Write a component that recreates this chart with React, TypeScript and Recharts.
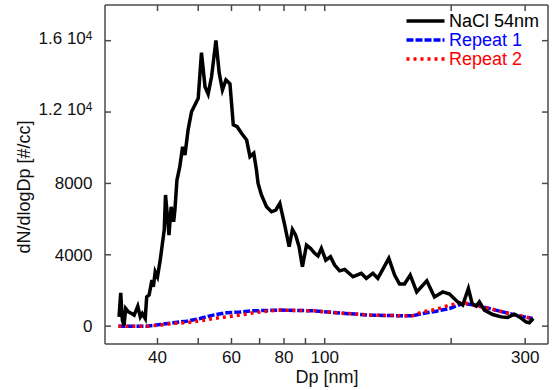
import React from 'react';
import { LineChart, Line, XAxis, YAxis, Legend } from 'recharts';

// NaCl 54nm (black)
const naclDp = [32.4, 32.7, 33.0, 33.3, 33.6, 34.1, 34.7, 35.2, 35.9, 36.4, 36.8, 37.4, 37.7, 38.2, 38.8, 39.1, 39.5, 40.0, 40.6, 41.1, 41.5, 41.8, 42.3, 42.6, 43.1, 43.7, 44.0, 44.5, 45.2, 45.9, 46.5, 47.3, 48.2, 49.1, 50.0, 50.9, 51.9, 52.8, 53.8, 55.1, 56.1, 57.1, 58.2, 59.5, 60.6, 61.9, 63.4, 65.2, 66.4, 67.8, 68.8, 69.4, 70.7, 72.7, 74.7, 76.5, 78.2, 80.4, 82.3, 83.8, 85.3, 86.9, 88.5, 90.5, 92.5, 94.7, 96.4, 98.2, 100.6, 103.2, 105.6, 108.5, 111.6, 116.8, 122.2, 125.6, 130.2, 133.8, 142.1, 146.7, 150.7, 154.9, 159.8, 165.6, 175.0, 182.5, 191.0, 198.2, 207.3, 213.1, 219.8, 224.3, 229.3, 233.5, 239.9, 251.1, 262.9, 272.6, 282.7, 290.6, 301.4, 306.9, 313.7];
const naclN = [520, 1870, 340, 60, 990, 800, 710, 620, 1120, 520, 710, 430, 1640, 1740, 2580, 2200, 3050, 2770, 3700, 4640, 5390, 7350, 5950, 5100, 6690, 5850, 6510, 8190, 8940, 10060, 9590, 11000, 12020, 12400, 12770, 15330, 13420, 13010, 13990, 16010, 14180, 13240, 13800, 13580, 11280, 11180, 10810, 10430, 9500, 9690, 8750, 8010, 7350, 6690, 6410, 6510, 6880, 5620, 4450, 5420, 5100, 4450, 3330, 4540, 4360, 4080, 3930, 4360, 3700, 3890, 3420, 3100, 3180, 2770, 2960, 2680, 2960, 2680, 3800, 2860, 2360, 2360, 2860, 1920, 2540, 1640, 1920, 1800, 1360, 1180, 2110, 1270, 1120, 1360, 900, 650, 520, 490, 670, 520, 240, 190, 430];

// Repeat 1 (blue)
const rep1Dp = [32.3, 35.1, 37.7, 40.6, 43.6, 46.9, 50.5, 54.3, 58.4, 62.8, 67.6, 72.7, 78.2, 93.8, 106.6, 127.9, 153.5, 161.8, 170.9, 184.2, 198.2, 213.1, 229.3, 246.6, 265.2, 285.3, 312.5];
const rep1N = [0, 0, 0, 95, 190, 280, 430, 620, 750, 790, 860, 880, 900, 860, 750, 620, 580, 580, 710, 840, 990, 1270, 1180, 990, 800, 620, 430];

// Repeat 2 (red)
const rep2Dp = [32.3, 35.1, 37.7, 40.6, 43.6, 46.9, 50.5, 54.3, 58.4, 62.8, 67.6, 72.7, 78.2, 93.8, 106.6, 127.9, 153.5, 161.8, 170.9, 184.2, 198.2, 213.1, 229.3, 246.6, 265.2, 285.3, 312.5];
const rep2N = [0, 0, 0, 60, 160, 190, 300, 430, 520, 620, 750, 840, 900, 860, 750, 620, 580, 580, 800, 940, 1180, 1330, 1140, 990, 800, 620, 430];

const xTicks = [40, 50, 60, 70, 80, 90, 100, 200, 300];
const xLabeledTicks = [40, 60, 80, 100, 300];
const yTicks = [0, 4000, 8000, 12000, 16000];
const yTickMantissa = ['0', '4000', '8000', '1.2 10', '1.6 10'];
const yTickExponent = ['', '', '', '4', '4'];

const seriesNames = ['NaCl 54nm', 'Repeat 1', 'Repeat 2'];
const seriesColors = ['#000000', '#0000ff', '#ff0000'];
const seriesDash = ['', '7 2', '3 4'];

const xLabel = 'Dp [nm]';
const yLabel = 'dN/dlogDp [#/cc]';

const FONT = '"Liberation Sans", Arial, sans-serif';
const AXIS = '#4a4a4a';

const naclData = naclDp.map((dp, i) => ({ dp, v: naclN[i] }));
const rep1Data = rep1Dp.map((dp, i) => ({ dp, v: rep1N[i] }));
const rep2Data = rep2Dp.map((dp, i) => ({ dp, v: rep2N[i] }));

const XTick = (props: any) => {
  const { x, payload } = props;
  const val = payload.value;
  if (!xLabeledTicks.includes(val)) return <g />;
  return (
    <text x={x} y={362.5} textAnchor="middle" fontSize={17} fontFamily={FONT} fill="#111">
      {String(val)}
    </text>
  );
};

const YTick = (props: any) => {
  const { y, payload } = props;
  const idx = yTicks.indexOf(payload.value);
  if (idx < 0) return <g />;
  const exp = yTickExponent[idx];
  return (
    <text x={92.5} y={exp ? y + 3 : y + 6} textAnchor="end" fontSize={17} fontFamily={FONT} fill="#111">
      <tspan>{yTickMantissa[idx]}</tspan>
      {exp ? <tspan dy={-4} fontSize={12}>{exp}</tspan> : null}
    </text>
  );
};

const LegendContent = () => (
  <svg width={155} height={75} style={{ display: 'block' }}>
    {seriesNames.map((name, i) => (
      <g key={name}>
        <line
          x1={13.5}
          x2={51.5}
          y1={16 + i * 19}
          y2={16 + i * 19}
          stroke={seriesColors[i]}
          strokeWidth={3.5}
          strokeDasharray={seriesDash[i] || undefined}
        />
        <text x={56} y={22 + i * 19} fontSize={18} fontFamily={FONT} fill={seriesColors[i]}>
          {name}
        </text>
      </g>
    ))}
  </svg>
);

export default function App() {
  return (
    <div style={{ position: 'absolute', left: 0, top: 0, width: 555, height: 390, background: '#fff' }}>
      <LineChart width={555} height={390} margin={{ top: 4, right: 6, bottom: 0, left: 0 }}>
        <XAxis
          dataKey="dp"
          type="number"
          scale="log"
          domain={[30, 340]}
          allowDataOverflow
          ticks={xTicks}
          interval={0}
          height={46}
          stroke={AXIS}
          strokeWidth={1.5}
          tickSize={-6}
          tick={<XTick />}
          label={(p: any) => (
            <text x={327} y={382.5} textAnchor="middle" fontSize={18} fontFamily={FONT} fill="#111">
              {xLabel}
            </text>
          )}
        />
        <XAxis
          xAxisId="top"
          orientation="top"
          dataKey="dp"
          type="number"
          scale="log"
          domain={[30, 340]}
          allowDataOverflow
          ticks={xTicks}
          interval={0}
          height={1}
          stroke={AXIS}
          strokeWidth={1.5}
          tickSize={-6}
          tick={() => <g />}
        />
        <YAxis
          type="number"
          domain={[-1000, 18000]}
          allowDataOverflow
          ticks={yTicks}
          interval={0}
          width={105}
          stroke={AXIS}
          strokeWidth={1.5}
          tickSize={-6}
          tick={<YTick />}
          label={(p: any) => (
            <text
              x={24}
              y={187}
              transform="rotate(-90 24 187)"
              textAnchor="middle"
              dominantBaseline="central"
              fontSize={18}
              fontFamily={FONT}
              fill="#111"
            >
              {yLabel}
            </text>
          )}
        />
        <YAxis
          yAxisId="right"
          orientation="right"
          type="number"
          domain={[-1000, 18000]}
          allowDataOverflow
          ticks={yTicks}
          interval={0}
          width={1}
          stroke={AXIS}
          strokeWidth={1.5}
          tickSize={-6}
          tick={() => <g />}
        />
        <Legend
          layout="vertical"
          align="center"
          verticalAlign="middle"
          content={() => <LegendContent />}
          wrapperStyle={{ left: 393, top: 5, width: 155, height: 75 }}
        />
        <Line
          data={rep1Data}
          dataKey="v"
          name={seriesNames[1]}
          stroke={seriesColors[1]}
          strokeWidth={3.5}
          strokeDasharray={seriesDash[1]}
          dot={false}
          activeDot={false}
          isAnimationActive={false}
        />
        <Line
          data={rep2Data}
          dataKey="v"
          name={seriesNames[2]}
          stroke={seriesColors[2]}
          strokeWidth={3.5}
          strokeDasharray={seriesDash[2]}
          dot={false}
          activeDot={false}
          isAnimationActive={false}
        />
        <Line
          data={naclData}
          dataKey="v"
          name={seriesNames[0]}
          stroke={seriesColors[0]}
          strokeWidth={3.5}
          dot={false}
          activeDot={false}
          isAnimationActive={false}
        />
      </LineChart>
    </div>
  );
}
